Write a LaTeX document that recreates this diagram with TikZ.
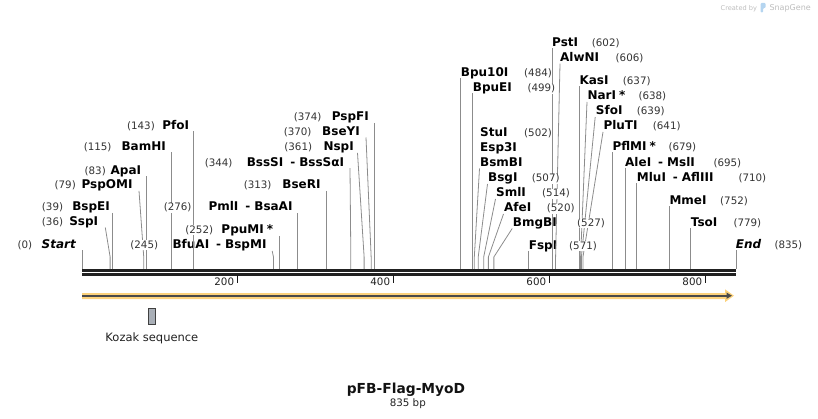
\documentclass[tikz,border=0pt]{standalone}
\usepackage{fontspec}
\setmainfont{DejaVu Sans}
\usetikzlibrary{positioning, calc, arrows.meta}

\definecolor{cutgray}{HTML}{8C8C8C}
\definecolor{numgray}{HTML}{333333}
\definecolor{featorange}{HTML}{FCD27C}
\definecolor{featline}{HTML}{4A4A4A}
\definecolor{kozakfill}{HTML}{A9AFB7}
\definecolor{markgray}{HTML}{BDBDBD}
\definecolor{markblue}{HTML}{B5D5F0}

\tikzset{
  enz/.style={font=\fontsize{12}{14}\selectfont\bfseries, inner sep=0pt, text=black},
  enzL/.style={enz, anchor=base east},
  enzR/.style={enz, anchor=base west},
  enzit/.style={font=\fontsize{12}{14}\selectfont\bfseries\itshape},
  bpnum/.style={font=\fontsize{10.3}{12}\selectfont, inner sep=0.5pt, fill=white, text=numgray},
  numL/.style={bpnum, anchor=base east},
  numR/.style={bpnum, anchor=base west},
  cutline/.style={draw=cutgray, line width=0.8pt},
  tickmark/.style={draw=black!90, line width=1.6pt},
  ticklbl/.style={font=\fontsize{10.3}{12}\selectfont, inner sep=0pt, text=black!87, anchor=base east}
}

\begin{document}
\begin{tikzpicture}[x=1pt, y=-1pt]
\useasboundingbox (0,0) rectangle (818,419);

% watermark
\node[font=\fontsize{6.6}{8}\selectfont, text=markgray, inner sep=0pt, anchor=base west] (madeby) at (720.5,10.3) {Created by};
\fill[markblue, rounded corners=1pt] (760.5,12.5) -- (760.5,3) -- (765.5,3) -- (765.5,8) -- (763,8) -- (763,12.5) -- cycle;
\node[font=\fontsize{8}{10}\selectfont, text=markgray, inner sep=0pt, anchor=base west] (snapgene) at (769.3,11) {SnapGene};

% cut sites on the backbone
\coordinate (c0) at (82,269);
\coordinate (c36) at ({82+0.7815*36},269);
\coordinate (c39) at ({82+0.7815*39},269);
\coordinate (c79) at ({82+0.7815*79},269);
\coordinate (c83) at ({82+0.7815*83},269);
\coordinate (c115) at ({82+0.7815*115},269);
\coordinate (c143) at ({82+0.7815*143},269);
\coordinate (c245) at ({82+0.7815*245},269);
\coordinate (c252) at ({82+0.7815*252},269);
\coordinate (c276) at ({82+0.7815*276},269);
\coordinate (c313) at ({82+0.7815*313},269);
\coordinate (c344) at ({82+0.7815*344},269);
\coordinate (c361) at ({82+0.7815*361},269);
\coordinate (c370) at ({82+0.7815*370},269);
\coordinate (c374) at ({82+0.7815*374},269);
\coordinate (c484) at ({82+0.7815*484},269);
\coordinate (c499) at ({82+0.7815*499},269);
\coordinate (c502) at ({82+0.7815*502},269);
\coordinate (c507) at ({82+0.7815*507},269);
\coordinate (c514) at ({82+0.7815*514},269);
\coordinate (c520) at ({82+0.7815*520},269);
\coordinate (c527) at ({82+0.7815*527},269);
\coordinate (c571) at ({82+0.7815*571},269);
\coordinate (c602) at ({82+0.7815*602},269);
\coordinate (c606) at ({82+0.7815*606},269);
\coordinate (c637) at ({82+0.7815*637},269);
\coordinate (c638) at ({82+0.7815*638},269);
\coordinate (c639) at ({82+0.7815*639},269);
\coordinate (c641) at ({82+0.7815*641},269);
\coordinate (c679) at ({82+0.7815*679},269);
\coordinate (c695) at ({82+0.7815*695},269);
\coordinate (c710) at ({82+0.7815*710},269);
\coordinate (c752) at ({82+0.7815*752},269);
\coordinate (c779) at ({82+0.7815*779},269);
\coordinate (c835) at (736,269);

% enzyme names, left of their sites
\node[enzL, enzit] (start) at (76,248.3) {Start};
\node[enzL] (sspi) at (98.3,225.5) {SspI};
\node[enzL] (bspei) at (110,210.8) {BspEI};
\node[enzL] (pspomi) at (132.7,188.8) {PspOMI};
\node[enzL] (apai) at (141.3,174.5) {ApaI};
\node[enzL] (bamhi) at (166,150.5) {BamHI};
\node[enzL] (pfoi) at (189.3,129.2) {PfoI};
\node[enzL] (bfuai) at (266.7,248.5) {BfuAI\hspace{7pt}-\hspace{4pt}BspMI};
\node[enzL] (ppumi) at (273.3,233.5) {PpuMI\kern3pt*};
\node[enzL] (pmli) at (292.7,211) {PmlI\hspace{7pt}-\hspace{4pt}BsaAI};
\node[enzL] (bseri) at (320.7,189) {BseRI};
\node[enzL] (bsssi) at (344.3,166.2) {BssSI\hspace{7pt}-\hspace{4pt}BssSαI};
\node[enzL] (nspi) at (354,150.8) {NspI};
\node[enzL] (bseyi) at (360,135.5) {BseYI};
\node[enzL] (pspfi) at (369,121) {PspFI};

% enzyme names, right of their sites
\node[enzR] (bpu10i) at (460.7,76.7) {Bpu10I};
\node[enzR] (bpuei) at (472.7,91.7) {BpuEI};
\node[enzR] (stui) at (480,136.3) {StuI};
\node[enzR] (esp3i) at (480,151.4) {Esp3I};
\node[enzR] (bsmbi) at (480,166.5) {BsmBI};
\node[enzR] (bsgi) at (488,182) {BsgI};
\node[enzR] (smli) at (496,197) {SmlI};
\node[enzR] (afei) at (504,212) {AfeI};
\node[enzR] (bmgbi) at (512.7,226.5) {BmgBI};
\node[enzR] (fspi) at (528.7,249.3) {FspI};
\node[enzR] (psti) at (552,46.7) {PstI};
\node[enzR] (alwni) at (560,61.7) {AlwNI};
\node[enzR] (kasi) at (579.3,85) {KasI};
\node[enzR] (nari) at (587.3,100) {NarI\kern3pt*};
\node[enzR] (sfoi) at (595.7,115) {SfoI};
\node[enzR] (pluti) at (603.3,130) {PluTI};
\node[enzR] (pflmi) at (612.3,150.5) {PflMI\kern3pt*};
\node[enzR] (alei) at (625,166.5) {AleI\hspace{7pt}-\hspace{4pt}MslI};
\node[enzR] (mlui) at (636.7,182) {MluI\hspace{7pt}-\hspace{4pt}AflIII};
\node[enzR] (mmei) at (669.3,205) {MmeI};
\node[enzR] (tsoi) at (690.7,227) {TsoI};
\node[enzR, enzit] (end) at (735.7,249) {End};

% cut lines
\draw[cutline] ($(c0 |- start.base)+(0,2)$) -- (c0);
\draw[cutline] ($(sspi.base east)+(7,2)$) -- ($(c36)+(0,-12)$) -- (c36);
\draw[cutline] ($(c39 |- bspei.base)+(0,2)$) -- (c39);
\draw[cutline] ($(pspomi.base east)+(6.3,2)$) -- ($(c79)+(0,-12)$) -- (c79);
\draw[cutline] ($(c83 |- apai.base)+(0,2)$) -- (c83);
\draw[cutline] ($(c115 |- bamhi.base)+(0,2)$) -- (c115);
\draw[cutline] ($(c143 |- pfoi.base)+(0,2)$) -- (c143);
\draw[cutline] ($(bfuai.base east)+(5.5,2.5)$) -- ($(c245)+(0,-12)$) -- (c245);
\draw[cutline] ($(c252 |- ppumi.base)+(0,2.5)$) -- (c252);
\draw[cutline] ($(c276 |- pmli.base)+(0,2.5)$) -- (c276);
\draw[cutline] ($(c313 |- bseri.base)+(0,2)$) -- (c313);
\draw[cutline] ($(bsssi.base east)+(5.7,2)$) -- ($(c344)+(0,-12)$) -- (c344);
\draw[cutline] ($(nspi.base east)+(3.5,2)$) -- ($(c361)+(0,-12)$) -- (c361);
\draw[cutline] ($(bseyi.base east)+(6,2)$) -- ($(c370)+(0,-12)$) -- (c370);
\draw[cutline] ($(c374 |- pspfi.base)+(0,2)$) -- (c374);
\draw[cutline] ($(c484 |- bpu10i.base)+(0,1.5)$) -- (c484);
\draw[cutline] ($(c499 |- bpuei.base)+(0,1.5)$) -- (c499);
\draw[cutline] ($(bsmbi.base west)+(-0.5,2)$) -- ($(c502)+(0,-12)$) -- (c502);
\draw[cutline] ($(bsgi.base west)+(-0.5,2)$) -- ($(c507)+(0,-12)$) -- (c507);
\draw[cutline] ($(smli.base west)+(-0.5,2)$) -- ($(c514)+(0,-12)$) -- (c514);
\draw[cutline] ($(afei.base west)+(-0.5,2)$) -- ($(c520)+(0,-12)$) -- (c520);
\draw[cutline] ($(bmgbi.base west)+(-0.5,2)$) -- ($(c527)+(0,-12)$) -- (c527);
\draw[cutline] ($(c571 |- fspi.base)+(0,1.5)$) -- (c571);
\draw[cutline] ($(c602 |- psti.base)+(0,1.5)$) -- (c602);
\draw[cutline] ($(alwni.base west)+(0,2)$) -- ($(c606)+(0,-12)$) -- (c606);
\draw[cutline] ($(c637 |- kasi.base)+(0,1.5)$) -- (c637);
\draw[cutline] ($(nari.base west)+(-0.3,2)$) -- ($(c638)+(0,-12)$) -- (c638);
\draw[cutline] ($(sfoi.base west)+(-0.5,2)$) -- ($(c639)+(0,-12)$) -- (c639);
\draw[cutline] ($(pluti.base west)+(-0.3,2)$) -- ($(c641)+(0,-12)$) -- (c641);
\draw[cutline] ($(c679 |- pflmi.base)+(0,2)$) -- (c679);
\draw[cutline] ($(c695 |- alei.base)+(0,1.5)$) -- (c695);
\draw[cutline] ($(c710 |- mlui.base)+(0,1.5)$) -- (c710);
\draw[cutline] ($(c752 |- mmei.base)+(0,1.5)$) -- (c752);
\draw[cutline] ($(c779 |- tsoi.base)+(0,1.5)$) -- (c779);
\draw[cutline] ($(c835 |- end.base)+(0,1.5)$) -- (c835);

% positions
\node[numL] (start-bp) at (32.8,248.3) {(0)};
\node[numL] (sspi-bp) at (63.8,225.5) {(36)};
\node[numL] (bspei-bp) at (63.8,210.8) {(39)};
\node[numL] (pspomi-bp) at (76.5,188.8) {(79)};
\node[numL] (apai-bp) at (106.5,174.5) {(83)};
\node[numL] (bamhi-bp) at (112.2,150.5) {(115)};
\node[numL] (pfoi-bp) at (155.5,129.2) {(143)};
\node[numL] (bfuai-bp) at (158.8,248.5) {(245)};
\node[numL] (ppumi-bp) at (213.8,233.5) {(252)};
\node[numL] (pmli-bp) at (192.2,211) {(276)};
\node[numL] (bseri-bp) at (272.2,189) {(313)};
\node[numL] (bsssi-bp) at (233.2,166.2) {(344)};
\node[numL] (nspi-bp) at (312.8,150.8) {(361)};
\node[numL] (bseyi-bp) at (312.2,135.5) {(370)};
\node[numL] (pspfi-bp) at (322.2,121) {(374)};
\node[numR] (bpu10i-bp) at (523.5,76.7) {(484)};
\node[numR] (bpuei-bp) at (526.8,91.7) {(499)};
\node[numR] (stui-bp) at (523.5,136.3) {(502)};
\node[numR] (bsgi-bp) at (531.2,182) {(507)};
\node[numR] (smli-bp) at (541.5,197) {(514)};
\node[numR] (afei-bp) at (546.2,212) {(520)};
\node[numR] (bmgbi-bp) at (576.5,226.5) {(527)};
\node[numR] (fspi-bp) at (568.5,249.3) {(571)};
\node[numR] (psti-bp) at (591.2,46.7) {(602)};
\node[numR] (alwni-bp) at (615,61.7) {(606)};
\node[numR] (kasi-bp) at (622.2,85) {(637)};
\node[numR] (nari-bp) at (637.8,100) {(638)};
\node[numR] (sfoi-bp) at (636.2,115) {(639)};
\node[numR] (pluti-bp) at (652.2,130) {(641)};
\node[numR] (pflmi-bp) at (667.8,150.5) {(679)};
\node[numR] (alei-bp) at (712.8,166.5) {(695)};
\node[numR] (mlui-bp) at (737.8,182) {(710)};
\node[numR] (mmei-bp) at (719.5,205) {(752)};
\node[numR] (tsoi-bp) at (732.8,227) {(779)};
\node[numR] (end-bp) at (773.8,249) {(835)};

% backbone and ruler
\draw[line width=3pt, black!87] (c0 |- 0,270.5) -- (c835 |- 0,270.5);
\draw[line width=2.7pt, black!87] (c0 |- 0,274.4) -- (c835 |- 0,274.4);
\draw[tickmark] (237.3,275.5) -- (237.3,283);
\draw[tickmark] (393.3,275.5) -- (393.3,283);
\draw[tickmark] (549.3,275.5) -- (549.3,283);
\draw[tickmark] (705.3,275.5) -- (705.3,283);
\node[ticklbl] (t200) at (234.3,285.7) {200};
\node[ticklbl] (t400) at (390.3,285.7) {400};
\node[ticklbl] (t600) at (546.3,285.7) {600};
\node[ticklbl] (t800) at (702.3,285.7) {800};

% insert feature
\fill[featorange] (82,293) -- (725,293) -- (725,289.3) -- (734,295.7) -- (725,302.1) -- (725,299) -- (82,299) -- cycle;
\draw[featline, line width=1.8pt, -{Triangle[length=5.5pt,width=6pt]}] (82,295.7) -- (732,295.7);

% Kozak sequence
\node[draw=black!75, fill=kozakfill, line width=0.8pt, minimum width=7pt, minimum height=16pt, inner sep=0pt] (kozak) at (151.9,316.4) {};
\node[font=\fontsize{11.5}{13}\selectfont, inner sep=0pt, text=black!87, below=8pt of kozak] (kozaklbl) {Kozak sequence};

% title
\node[font=\fontsize{13.8}{16}\selectfont\bfseries, inner sep=0pt, anchor=base, text=black!93] (title) at (406,393.3) {pFB-Flag-MyoD};
\node[font=\fontsize{10.3}{12}\selectfont, inner sep=0pt, anchor=base, text=black!87] (size) at (407.8,406.7) {835 bp};
\end{tikzpicture}
\end{document}
